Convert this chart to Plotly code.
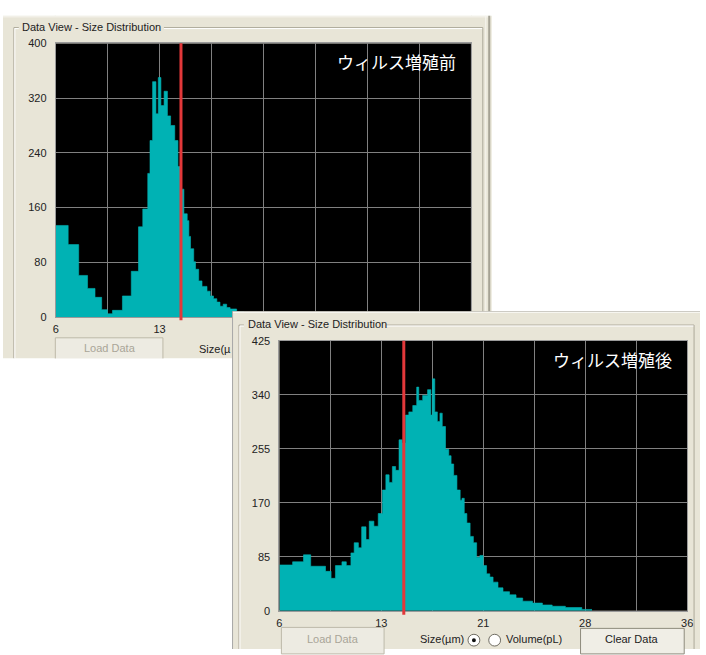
import plotly.graph_objects as go

W, H = 706, 655

# ---------------- data ----------------
before_edges = [6.0, 6.9, 7.66, 8.3, 8.84, 9.32, 9.73, 10.1, 10.82, 11.46,
                11.98, 12.29, 12.65, 12.81, 13.0, 13.24, 13.41, 13.6, 13.83, 14.07,
                14.3, 14.6, 14.83, 15.0, 15.26, 15.5, 15.62, 15.74, 15.97, 16.1,
                16.33, 16.57, 16.93, 17.16, 17.4, 17.64, 17.87, 18.1, 18.35, 18.6,
                19.07, 19.6, 20.5, 22.0]
before_counts = [134, 106, 61, 42, 29, 11, 5, 10, 31, 67,
                 132, 158, 210, 258, 344, 297, 350, 309, 330, 294,
                 280, 258, 220, 187, 151, 141, 118, 100, 81, 70,
                 53, 45, 38, 31, 27, 22, 16, 19, 14, 12,
                 8, 5, 3]

after_edges = [6.0, 6.97, 7.77, 8.3, 9.39, 9.8, 10.12, 10.6, 10.92, 11.26,
               11.5, 11.81, 12.05, 12.37, 12.61, 12.95, 13.27, 13.58, 13.83, 14.07,
               14.31, 14.55, 14.8, 15.03, 15.28, 15.52, 15.81, 16.1, 16.25, 16.54,
               16.9, 17.14, 17.26, 17.43, 17.62, 17.81, 17.98, 18.22, 18.46, 18.63,
               18.82, 19.06, 19.3, 19.43, 19.6, 19.79, 20.03, 20.27, 20.51, 20.75,
               20.99, 21.24, 21.48, 21.72, 22.08, 22.45, 22.93, 23.41, 23.9, 24.62,
               25.35, 26.07, 27.04, 28.25, 29.0]
after_counts = [72, 77, 88, 70, 62, 51, 71, 77, 71, 91,
                107, 99, 132, 112, 141, 133, 153, 190, 214, 202,
                227, 221, 269, 264, 308, 313, 323, 352, 331, 339,
                348, 308, 365, 313, 298, 311, 290, 254, 244, 231,
                213, 190, 174, 177, 153, 138, 117, 107, 84, 87,
                71, 58, 53, 45, 36, 30, 25, 20, 15, 12,
                9, 7, 5, 2]

before_gate = 15.05
after_gate = 15.15

x_tick_vals = [6, 9.75, 13.5, 17.25, 21, 24.75, 28.5, 32.25, 36]
before_x_tick_text = ["6", "", "13", "", "", "", "", "", ""]   # the rest is hidden behind the second window
after_x_tick_text = ["6", "", "13", "", "21", "", "28", "", "36"]
before_y_ticks = [0, 80, 160, 240, 320, 400]
after_y_ticks = [0, 85, 170, 255, 340, 425]

title_before = "ウィルス増殖前"
title_after = "ウィルス増殖後"
group_title = "Data View - Size Distribution"

# ---------------- styles ----------------
BEIGE = "#E8E5D7"
TEAL = "#00B2B4"
GRID = "#808080"
RED = "#E2383A"
TXT = "#222222"
GREYTXT = "#A9A598"
EDGE = "#ACA899"
FONT = "Liberation Sans"
JP = "Noto Sans CJK JP"


def fx(px):
    return px / W


def fy(py):
    return 1 - py / H


fig = go.Figure()

# dummy subplot (forces later overlapping subplots to draw their own backgrounds in order)
fig.add_trace(go.Scatter(x=[0], y=[0], mode="markers", marker=dict(opacity=0),
                         xaxis="x", yaxis="y", hoverinfo="skip", showlegend=False))

# top histogram (before)
fig.add_trace(go.Scatter(x=before_edges, y=before_counts + [before_counts[-1]],
                         mode="lines", line=dict(shape="hv", width=0.6, color=TEAL),
                         fill="tozeroy", fillcolor=TEAL,
                         xaxis="x2", yaxis="y2", hoverinfo="skip", showlegend=False))

# second window panel covering the first one
fig.add_trace(go.Scatter(x=[0, 1, 1, 0, 0], y=[0, 0, 1, 1, 0], mode="lines",
                         line=dict(width=0, color=BEIGE), fill="toself", fillcolor=BEIGE,
                         xaxis="x3", yaxis="y3", hoverinfo="skip", showlegend=False))

# bottom histogram (after)
fig.add_trace(go.Scatter(x=after_edges, y=after_counts + [after_counts[-1]],
                         mode="lines", line=dict(shape="hv", width=0.6, color=TEAL),
                         fill="tozeroy", fillcolor=TEAL,
                         xaxis="x4", yaxis="y4", hoverinfo="skip", showlegend=False))

tickfont = dict(family=FONT, size=11, color=TXT)

common_x = dict(range=[6, 36], tickmode="array", tickvals=x_tick_vals,
                showgrid=True, gridcolor=GRID, gridwidth=1, zeroline=False,
                showline=True, linecolor="#9a9a9a", linewidth=1, mirror=True,
                ticks="", tickfont=tickfont, fixedrange=True, ticklabelstandoff=2)
common_y = dict(showgrid=True, gridcolor=GRID, gridwidth=1, zeroline=False,
                showline=True, linecolor="#9a9a9a", linewidth=1, mirror=True,
                ticks="", tickfont=tickfont, ticklabelstandoff=6, fixedrange=True,
                tickmode="array")
hidden = dict(visible=False, showgrid=False, zeroline=False, range=[0, 1], fixedrange=True)

TL, TR, TT, TB = 53.4, 474, 38, 317      # top plot area (px)
top_dom_x = [fx(TL), fx(TR)]
top_dom_y = [fy(TB), fy(TT)]
cov_dom_x = [fx(232), 1.0]
cov_dom_y = [0.0, fy(311)]
bot_dom_x = [fx(280), fx(693)]
bot_dom_y = [fy(616), fy(341)]

shapes = []


def line(x0, y0, x1, y1, color, width=1, layer="below"):
    shapes.append(dict(type="line", xref="paper", yref="paper",
                       x0=fx(x0), y0=fy(y0), x1=fx(x1), y1=fy(y1),
                       line=dict(color=color, width=width), layer=layer))


def rect(x0, y0, x1, y1, fill, color, width=1, layer="below"):
    shapes.append(dict(type="rect", xref="paper", yref="paper",
                       x0=fx(x0), y0=fy(y1), x1=fx(x1), y1=fy(y0),
                       fillcolor=fill, line=dict(color=color, width=width), layer=layer))


# first window: beige frame around the top plot area
rect(0, 10, TL, 359, BEIGE, BEIGE, 0)
rect(TR, 10, 495, 359, BEIGE, BEIGE, 0)
rect(TL - 1, 10, TR + 1, TT, BEIGE, BEIGE, 0)
rect(TL - 1, TB, TR + 1, 359, BEIGE, BEIGE, 0)

# first window frame
line(0, 11, 494, 11, "#F7F6F0", 1)
line(489, 10, 489, 359, "#F7F6F0", 1)
line(492.5, 10, 492.5, 359, "#A5A294", 2)
# first group box
line(11, 22, 16, 22, EDGE)
line(163, 22, 486, 22, EDGE)
line(11, 23, 16, 23, "white")
line(163, 23, 486, 23, "white")
line(11, 22, 11, 359, EDGE)
line(12, 23, 12, 359, "white")
line(486, 22, 486, 359, EDGE)
# first "Load Data" button (disabled)
rect(53, 338, 162, 362, "#EDEBE2", "#BDB9A9", 1)
rect(0, 359, 232, 370, "white", "white", 0)

# second window frame
line(232.5, 311, 232.5, H, "#A9A9A9", 1, "above")
line(233, 312, W, 312, "#F7F6F0", 1.5, "above")
# second group box
line(239, 325, 244, 325, EDGE, 1, "above")
line(388, 325, 700, 325, EDGE, 1, "above")
line(240, 326, 244, 326, "white", 1, "above")
line(388, 326, 700, 326, "white", 1, "above")
line(239, 325, 239, H, EDGE, 1, "above")
line(240, 326, 240, H, "white", 1, "above")
line(700, 325, 700, H, EDGE, 1, "above")
# buttons
rect(282, 633, 386, 660, "#EDEBE2", "#BDB9A9", 1, "above")
rect(585, 634, 690, 660, "#F0EEE6", "#8E8B7D", 1, "above")
# radio buttons
shapes.append(dict(type="circle", xref="paper", yref="paper",
                   x0=fx(471), x1=fx(483), y0=fy(652), y1=fy(640),
                   fillcolor="white", line=dict(color="#6F6C62", width=1), layer="above"))
shapes.append(dict(type="circle", xref="paper", yref="paper",
                   x0=fx(475), x1=fx(479), y0=fy(648), y1=fy(644),
                   fillcolor="#111111", line=dict(color="#111111", width=0), layer="above"))
shapes.append(dict(type="circle", xref="paper", yref="paper",
                   x0=fx(492), x1=fx(504), y0=fy(652), y1=fy(640),
                   fillcolor="white", line=dict(color="#6F6C62", width=1), layer="above"))

# red threshold lines
shapes.append(dict(type="line", xref="x2", yref="paper", x0=before_gate, x1=before_gate,
                   y0=fy(320), y1=fy(38), line=dict(color=RED, width=3), layer="above"))
shapes.append(dict(type="line", xref="x4", yref="paper", x0=after_gate, x1=after_gate,
                   y0=fy(620), y1=fy(341), line=dict(color=RED, width=3), layer="above"))

annotations = []


def text(s, px, py, anchor="left", size=11, color=TXT, family=FONT):
    annotations.append(dict(text=s, x=fx(px), y=fy(py), xref="paper", yref="paper",
                            xanchor=anchor, yanchor="middle", showarrow=False,
                            font=dict(family=family, size=size, color=color)))


text(group_title, 17, 21)
text(title_before, 461, 57, "right", 17, "white", JP)
text("Load Data", 108, 348, "center", 11, GREYTXT)
text("Size(µ", 196, 349)

text(group_title, 246, 324)
text(title_after, 680, 360, "right", 17, "white", JP)
text("Load Data", 334, 645, "center", 11, GREYTXT)
text("Size(µm)", 420, 645)
text("Volume(pL)", 507, 645)
text("Clear Data", 637, 645, "center", 11, TXT)

fig.update_layout(
    width=W, height=H,
    margin=dict(l=0, r=0, t=0, b=0),
    paper_bgcolor="white",
    plot_bgcolor="black",
    hovermode=False,
    showlegend=False,
    xaxis=dict(domain=[fx(380), fx(390)], anchor="y", **hidden),
    yaxis=dict(domain=[fy(520), fy(510)], anchor="x", **hidden),
    xaxis2=dict(domain=top_dom_x, anchor="y2", ticktext=before_x_tick_text, **common_x),
    yaxis2=dict(domain=top_dom_y, anchor="x2", range=[0, 400],
                tickvals=before_y_ticks, **common_y),
    xaxis3=dict(domain=cov_dom_x, anchor="y3", **hidden),
    yaxis3=dict(domain=cov_dom_y, anchor="x3", **hidden),
    xaxis4=dict(domain=bot_dom_x, anchor="y4", ticktext=after_x_tick_text, **common_x),
    yaxis4=dict(domain=bot_dom_y, anchor="x4", range=[0, 425],
                tickvals=after_y_ticks, **common_y),
    shapes=shapes,
    annotations=annotations,
)

fig.write_html("out.html", config={"displayModeBar": False},
               post_script="document.body.style.margin='0';document.body.style.overflow='hidden';")
